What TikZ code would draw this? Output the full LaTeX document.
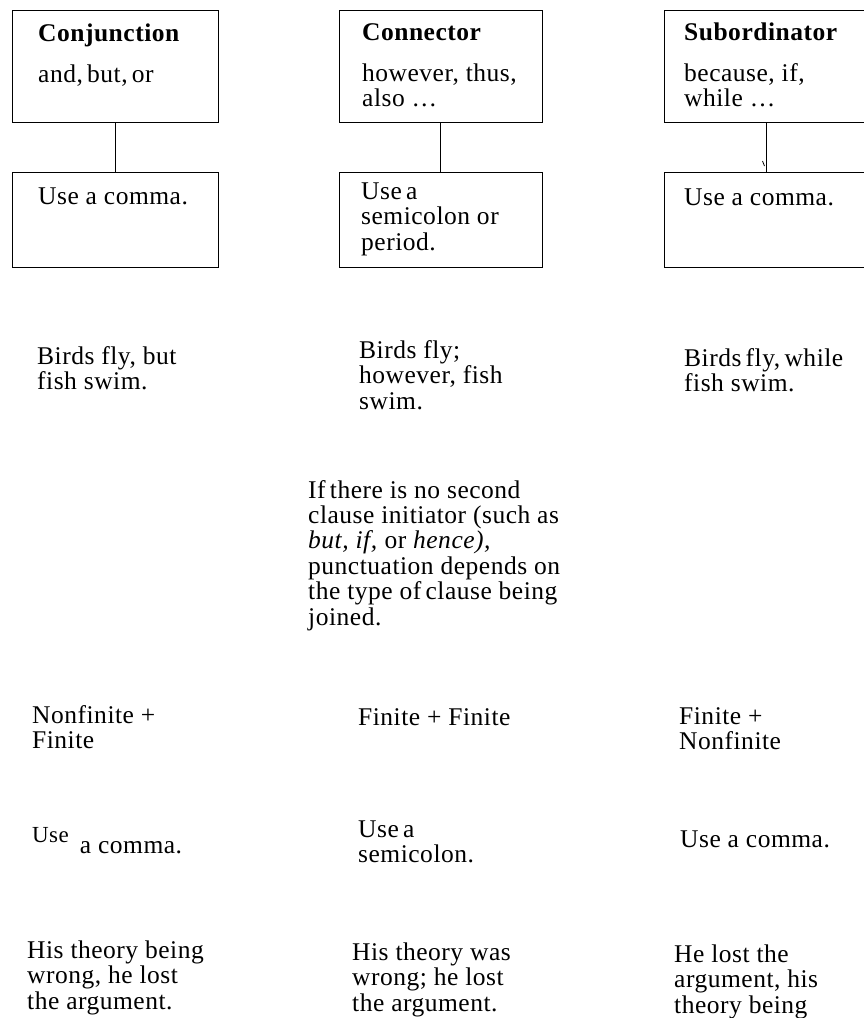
\documentclass[tikz,border=0pt]{standalone}
\usepackage{fontspec}
\setmainfont{Liberation Serif}[LetterSpace=2]
\newcommand\mylines[1]{\begin{tabular}[t]{@{}l@{}}#1\end{tabular}}
\tikzset{
  box/.style={draw, line width=1pt, inner sep=0pt, minimum width=#1},
  topbox/.style={box=#1, minimum height=112pt},
  botbox/.style={box=#1, minimum height=95pt},
  link/.style={line width=1pt},
  txt/.style={anchor=base west, inner sep=0pt, font=\fontsize{25.5}{25.8}\selectfont},
}
\begin{document}
\begin{tikzpicture}[x=1pt, y=-1pt]
\useasboundingbox (0,0) rectangle (863,1018);
% boxes
\node[topbox=206pt] (b1) at (115,66) {};
\node[botbox=206pt] (b1b) at (115,219.5) {};
\node[topbox=203pt] (b2) at (440.5,66) {};
\node[botbox=203pt] (b2b) at (440.5,219.5) {};
\node[topbox=204pt] (b3) at (766,66) {};
\node[botbox=204pt] (b3b) at (766,219.5) {};
\draw[link] (b1.south) -- (b1b.north);
\draw[link] (b2.south) -- (b2b.north);
\draw[link] (b3.south) -- (b3b.north);
\draw[line width=0.8pt] (762.5,161) -- (764.5,166);
% box texts
\node[txt] (t1a) at (38,41) {\textbf{Conjunction}};
\node[txt] (t1b) at (38,82) {and,\,but,\,or};
\node[txt] (t1c) at (38,204) {Use a comma.};
\node[txt] (t2a) at (362,40) {\textbf{Connector}};
\node[txt] (t2b) at (362,81) {\mylines{however, thus,\\ also \dots}};
\node[txt] (t2c) at (361,199) {\mylines{Use\,a\\ semicolon or\\ period.}};
\node[txt] (t3a) at (684,40) {\textbf{Subordinator}};
\node[txt] (t3b) at (684,81) {\mylines{because, if,\\ while \dots}};
\node[txt] (t3c) at (684,205) {Use a comma.};
% examples
\node[txt] (e1) at (37,364) {\mylines{Birds fly, but\\ fish swim.}};
\node[txt] (e2) at (359,358) {\mylines{Birds fly;\\ however, fish\\ swim.}};
\node[txt] (e3) at (684,366) {\mylines{Birds\,fly,\,while\\ fish swim.}};
% paragraph
\node[txt, font=\fontsize{25.5}{25.4}\selectfont] (para) at (308,498) {\mylines{If\,there is no second\\ clause initiator (such as\\ \textit{but, if,} or \textit{hence),}\\ punctuation depends on\\ the type of\,clause being\\ joined.}};
% clause types
\node[txt] (n1) at (32,723) {\mylines{Nonfinite +\\ Finite}};
\node[txt] (n2) at (358,725) {Finite + Finite};
\node[txt] (n3) at (679,724) {\mylines{Finite +\\ Nonfinite}};
% rules
\node[txt] (u1) at (32,853) {\raisebox{11pt}{\fontsize{23}{24}\selectfont Use}\hspace{11pt}a comma.};
\node[txt] (u2) at (358,837) {\mylines{Use\,a\\ semicolon.}};
\node[txt] (u3) at (680,847) {Use a comma.};
% examples 2
\node[txt] (h1) at (27,958) {\mylines{His theory being\\ wrong, he lost\\ the argument.}};
\node[txt] (h2) at (352,960) {\mylines{His theory was\\ wrong; he lost\\ the argument.}};
\node[txt] (h3) at (674,962) {\mylines{He lost the\\ argument, his\\ theory being}};
\end{tikzpicture}
\end{document}
